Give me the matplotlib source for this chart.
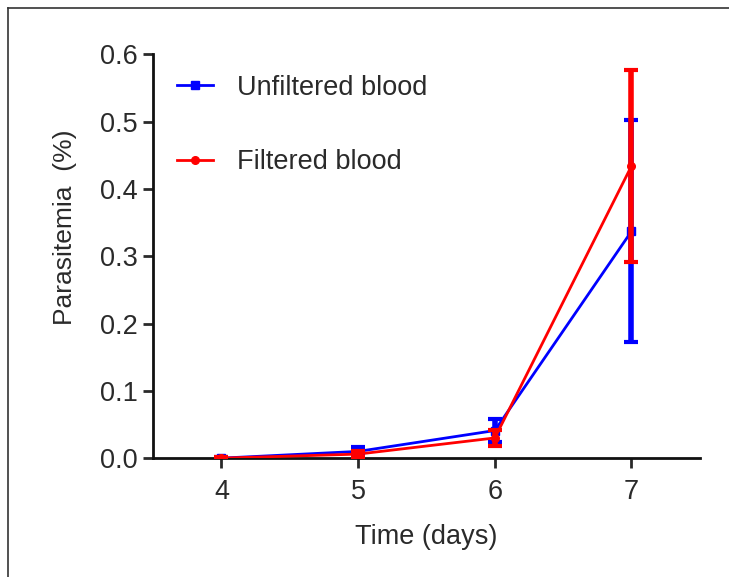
import matplotlib
matplotlib.use("Agg")
import matplotlib.pyplot as plt
from matplotlib.lines import Line2D

plt.rcParams["font.family"] = ["Liberation Sans", "DejaVu Sans"]

days = [4, 5, 6, 7]
unfiltered = [0.0, 0.010, 0.041, 0.337]
unfiltered_err = [0.002, 0.006, 0.017, 0.165]
filtered = [0.0, 0.006, 0.030, 0.434]
filtered_err = [0.002, 0.005, 0.012, 0.143]

BLUE = "#0000ff"
RED = "#ff0000"
TEXT = "#2a2a2a"

fig = plt.figure(figsize=(7.29, 5.77), dpi=100)
ax = fig.add_axes([0.21, 0.206, 0.75, 0.70])

ax.errorbar(days, unfiltered, yerr=unfiltered_err, color=BLUE, marker="s",
            markersize=5.5, linewidth=2, elinewidth=4, capsize=5, capthick=3,
            label="Unfiltered blood", zorder=3)
ax.errorbar(days, filtered, yerr=filtered_err, color=RED, marker="o",
            markersize=5.5, linewidth=2, elinewidth=4, capsize=5, capthick=3,
            label="Filtered blood", zorder=4)

ax.set_xlim(3.5, 7.5)
ax.set_ylim(0, 0.6)
ax.set_xticks(days)
ax.set_yticks([0, 0.1, 0.2, 0.3, 0.4, 0.5, 0.6])
ax.set_yticklabels(["0.0", "0.1", "0.2", "0.3", "0.4", "0.5", "0.6"])
for side in ("top", "right"):
    ax.spines[side].set_visible(False)
for side in ("left", "bottom"):
    ax.spines[side].set_linewidth(2)
    ax.spines[side].set_color("#111111")
ax.tick_params(width=2, length=7, labelsize=19.5, colors=TEXT)
ax.tick_params(axis="x", pad=8)
ax.tick_params(axis="y", pad=4)

ax.set_xlabel("Time (days)", fontsize=19.5, color=TEXT, labelpad=14)
ax.set_ylabel("Parasitemia  (%)", fontsize=19, color=TEXT)
ax.yaxis.set_label_coords(-0.139, 0.572)

handles = [
    Line2D([], [], color=BLUE, marker="s", markersize=5.5, linewidth=2),
    Line2D([], [], color=RED, marker="o", markersize=5.5, linewidth=2),
]
ax.legend(handles, ["Unfiltered blood", "Filtered blood"], loc="upper left",
          bbox_to_anchor=(0.0, 1.01), frameon=False, fontsize=19.5,
          labelspacing=1.8, handlelength=1.3, handletextpad=0.9,
          labelcolor=TEXT)

# outer frame of the original figure (left and top edges)
fig.add_artist(Line2D([8 / 729, 8 / 729], [0, 1 - 8 / 577],
                      transform=fig.transFigure, color="#333333", lw=1.2))
fig.add_artist(Line2D([8 / 729, 1], [1 - 8 / 577, 1 - 8 / 577],
                      transform=fig.transFigure, color="#333333", lw=1.2))

fig.savefig("out.png", dpi=100)
